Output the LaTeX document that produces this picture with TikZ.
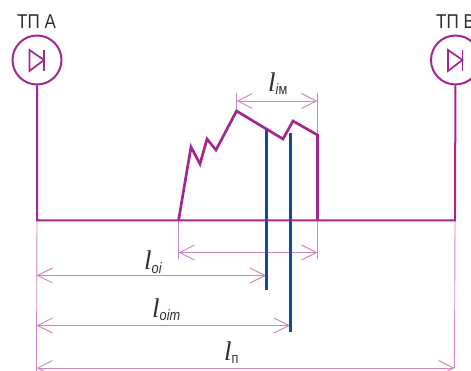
\documentclass[tikz,border=0pt]{standalone}
\usepackage{fontspec}
\setmainfont[FakeStretch=0.85]{Liberation Sans}
\newfontfamily\lfont{Liberation Serif}
\usetikzlibrary{arrows.meta,calc}
\definecolor{mainp}{HTML}{A3278F}
\definecolor{dimp}{HTML}{CF85C2}
\definecolor{blueb}{HTML}{0B4F94}
\definecolor{txt}{HTML}{2E2E2E}
\tikzset{
  x=1pt,y=-1pt,
  feeder/.style={draw=mainp,line width=2pt},
  profile/.style={draw=mainp,line width=2.7pt,line join=miter},
  fault/.style={draw=blueb,line width=2.7pt},
  extline/.style={draw=dimp,line width=0.9pt},
  dimline/.style={draw=dimp,line width=0.9pt,{Straight Barb[length=15pt,width=15pt,line width=0.9pt]}-{Straight Barb[length=15pt,width=15pt,line width=0.9pt]}},
  station/.style={circle,draw=mainp,line width=2pt,minimum size=49pt,inner sep=0pt},
  diode/.style={draw=mainp,line width=1.7pt},
  title/.style={text=txt,font=\fontsize{20}{22}\selectfont,inner sep=0pt,anchor=base west},
  lab/.style={text=txt,inner sep=0pt,anchor=base west},
}
\newcommand{\biglab}[1]{{\lfont\fontsize{27}{27}\selectfont\itshape l}\raisebox{-3pt}{\fontsize{15}{15}\selectfont #1}}
\begin{document}
\begin{tikzpicture}
\useasboundingbox[clip] (0,0) rectangle (471,371);
% stations
\node[station] (tpa) at (37,60) {};
\node[station] (tpb) at (455.5,60) {};
\node[title] (ta) at (17,28.5) {ТП А};
\node[title] (tb) at (436,28.5) {ТП В};
% diodes
\draw[diode] ($(tpa)+(-7.5,-10)$) -- ($(tpa)+(7,0)$) -- ($(tpa)+(-7.5,11)$) -- cycle;
\draw[diode] ($(tpa)+(7,-10)$) -- ($(tpa)+(7,11)$);
\draw[diode] ($(tpb)+(-7.5,-10)$) -- ($(tpb)+(7,0)$) -- ($(tpb)+(-7.5,11)$) -- cycle;
\draw[diode] ($(tpb)+(7,-10)$) -- ($(tpb)+(7,11)$);
% key coordinates
\coordinate (busa) at (37,220.5);
\coordinate (busb) at (455,220.5);
\coordinate (p0) at (178.5,220.5);
\coordinate (p1) at (236.5,111);
\coordinate (p2) at (317.5,135);
\coordinate (p3) at (317.5,220.5);
\coordinate (f1t) at (266.7,129);
\coordinate (f1b) at (266.7,290);
\coordinate (f2t) at (290.5,133);
\coordinate (f2b) at (290.5,332);
% extension lines
\coordinate (e1) at (36.5,371);
\coordinate (e2) at (454.5,368);
\coordinate (e3) at (178.5,259);
\coordinate (e4) at (317.5,259);
\coordinate (e5) at (236.5,93);
\coordinate (e6) at (317.5,93);
\draw[extline] (busa) -- (e1);
\draw[extline] (busb) -- (e2);
\draw[extline] (p0) -- (e3);
\draw[extline] (p3) -- (e4);
\draw[extline] (p1) -- (e5);
\draw[extline] (p2) -- (e6);
% dimension lines
\coordinate (d1a) at (236.5,101);
\coordinate (d1b) at (317.5,101);
\coordinate (d2a) at (178.5,252.5);
\coordinate (d2b) at (317.5,252.5);
\coordinate (d3a) at (36.5,275.5);
\coordinate (d3b) at (266,275.5);
\coordinate (d4a) at (36.5,325.5);
\coordinate (d4b) at (290,325.5);
\coordinate (d5a) at (36.5,368);
\coordinate (d5b) at (454.5,368);
\draw[dimline] (d1a) -- (d1b);
\draw[dimline] (d2a) -- (d2b);
\draw[dimline] (d3a) -- (d3b);
\draw[dimline] (d4a) -- (d4b);
\draw[dimline] (d5a) -- (d5b);
% fault lines
\draw[fault] (f1t) -- (f1b);
\draw[fault] (f2t) -- (f2b);
% feeder
\draw[feeder] (tpa) -- (busa) -- (busb) -- (tpb);
% profile
\draw[profile] (p0) -- (191,147) -- (200,164) -- (207,139) -- (216,150) -- (p1) -- (283,139) -- (293,121) -- (p2) -- (p3);
% labels
\node[lab] (l1) at (268,92) {\biglab{\itshape i\upshape м}};
\node[lab] (l2) at (144,270) {\biglab{\itshape oi}};
\node[lab] (l3) at (152,317) {\biglab{\itshape oim}};
\node[lab] (l4) at (224,360) {\biglab{п}};
\end{tikzpicture}
\end{document}
